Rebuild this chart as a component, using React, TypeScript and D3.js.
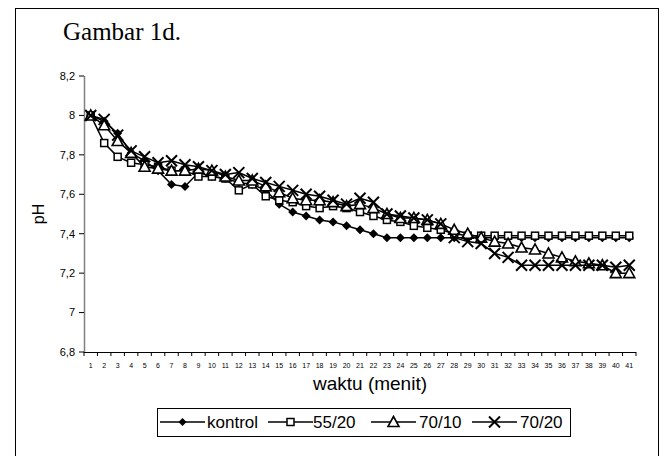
import React from 'react'
import * as d3 from 'd3'

// minutes 1..41
const minutes = d3.range(1, 42).map(String)

const kontrol = [8.0, 7.97, 7.91, 7.81, 7.77, 7.72, 7.65, 7.64, 7.71, 7.69, 7.68, 7.66, 7.65, 7.62, 7.55, 7.51, 7.49, 7.47, 7.46, 7.44, 7.42, 7.4, 7.38, 7.38, 7.38, 7.38, 7.38, 7.38, 7.38, 7.38, 7.38, 7.38, 7.38, 7.38, 7.38, 7.38, 7.38, 7.38, 7.38, 7.38, 7.38]
const s5520 = [8.0, 7.86, 7.79, 7.76, 7.75, 7.74, 7.72, 7.72, 7.69, 7.69, 7.68, 7.62, 7.65, 7.59, 7.57, 7.56, 7.54, 7.53, 7.54, 7.53, 7.51, 7.49, 7.47, 7.46, 7.44, 7.43, 7.42, 7.4, 7.39, 7.39, 7.39, 7.39, 7.39, 7.39, 7.39, 7.39, 7.39, 7.39, 7.39, 7.39, 7.39]
const s7010 = [8.0, 7.95, 7.87, 7.81, 7.74, 7.73, 7.72, 7.72, 7.73, 7.72, 7.69, 7.67, 7.67, 7.64, 7.61, 7.58, 7.57, 7.57, 7.56, 7.54, 7.55, 7.53, 7.5, 7.48, 7.48, 7.47, 7.45, 7.42, 7.4, 7.38, 7.36, 7.35, 7.33, 7.32, 7.3, 7.28, 7.26, 7.25, 7.24, 7.2, 7.2]
const s7020 = [8.0, 7.98, 7.9, 7.82, 7.79, 7.76, 7.77, 7.75, 7.74, 7.72, 7.7, 7.71, 7.68, 7.66, 7.64, 7.62, 7.6, 7.59, 7.57, 7.55, 7.58, 7.56, 7.5, 7.49, 7.48, 7.47, 7.45, 7.38, 7.36, 7.35, 7.3, 7.28, 7.24, 7.24, 7.24, 7.24, 7.24, 7.24, 7.24, 7.23, 7.24]

const yTicks = [6.8, 7, 7.2, 7.4, 7.6, 7.8, 8, 8.2]
const seriesNames = ['kontrol', '55/20', '70/10', '70/20']

const series = [
  { name: seriesNames[0], values: kontrol, marker: 'diamond' },
  { name: seriesNames[1], values: s5520, marker: 'square' },
  { name: seriesNames[2], values: s7010, marker: 'triangle' },
  { name: seriesNames[3], values: s7020, marker: 'cross' },
]

const fmt = (v: number) => {
  const s = d3.format('.1f')(v)
  return (s.endsWith('.0') ? s.slice(0, -2) : s).replace('.', ',')
}

const Marker = ({ type, x, y }: { type: string; x: number; y: number }) => {
  if (type === 'diamond') {
    return <path d={`M${x},${y - 4.5}L${x + 4.5},${y}L${x},${y + 4.5}L${x - 4.5},${y}Z`} fill="#000" />
  }
  if (type === 'square') {
    return <rect x={x - 3.5} y={y - 3.5} width={7} height={7} fill="#fff" stroke="#000" strokeWidth={1.5} />
  }
  if (type === 'triangle') {
    return <path d={`M${x},${y - 5.5}L${x + 5.5},${y + 4.5}L${x - 5.5},${y + 4.5}Z`} fill="#fff" stroke="#000" strokeWidth={1.6} />
  }
  return (
    <path d={`M${x - 5.5},${y - 5.5}L${x + 5.5},${y + 5.5}M${x + 5.5},${y - 5.5}L${x - 5.5},${y + 5.5}`} stroke="#000" strokeWidth={2} />
  )
}

const App = () => {
  const width = 664
  const height = 456
  const left = 84
  const right = 636
  const top = 76
  const bottom = 352

  const x = d3.scaleBand().domain(minutes).range([left, right])
  const y = d3.scaleLinear().domain([6.8, 8.2]).range([bottom, top])
  const cx = (i: number) => (x(minutes[i]) as number) + x.bandwidth() / 2

  const line = d3.line<number>()
    .x((d, i) => cx(i))
    .y(d => y(d))

  const legendItems = [
    { lx: 160, tx: 207 },
    { lx: 268, tx: 313 },
    { lx: 371, tx: 419 },
    { lx: 472, tx: 520 },
  ]

  return (
    <svg width={width} height={height} style={{ position: 'absolute', left: 0, top: 0 }} fontFamily="Arial, 'Liberation Sans', sans-serif">
      <rect x={0} y={0} width={width} height={height} fill="#fff" />
      <rect x={15.5} y={8.5} width={643} height={470} fill="none" stroke="#000" strokeWidth={1} />
      <text x={63} y={40} fontFamily="'Liberation Serif', 'Times New Roman', serif" fontSize={25}>Gambar 1d.</text>

      {/* y axis */}
      <line x1={left + 0.5} x2={left + 0.5} y1={top} y2={bottom} stroke="#808080" strokeWidth={1.5} />
      {yTicks.map(t => (
        <g key={t}>
          <line x1={left - 5} x2={left} y1={y(t)} y2={y(t)} stroke="#000" />
          <text x={left - 9} y={y(t)} dy="0.35em" textAnchor="end" fontSize={11}>{fmt(t)}</text>
        </g>
      ))}
      <text transform={`translate(44,${(top + bottom) / 2}) rotate(-90)`} textAnchor="middle" fontSize={16}>pH</text>

      {/* x axis */}
      <line x1={left} x2={right} y1={bottom + 0.5} y2={bottom + 0.5} stroke="#000" strokeWidth={1} />
      {minutes.map((m, i) => (
        <g key={m}>
          <line x1={x(m) as number} x2={x(m) as number} y1={bottom} y2={bottom + 4} stroke="#000" />
          <text x={cx(i)} y={bottom + 16} textAnchor="middle" fontSize={7}>{m}</text>
        </g>
      ))}
      <line x1={right} x2={right} y1={bottom} y2={bottom + 4} stroke="#000" />
      <text x={(left + right) / 2 + 10} y={390} textAnchor="middle" fontSize={19}>waktu (menit)</text>

      {/* series */}
      {series.map(s => (
        <g key={s.name}>
          <path d={line(s.values) as string} fill="none" stroke="#000" strokeWidth={1.5} />
          {s.values.map((v, i) => <Marker key={i} type={s.marker} x={cx(i)} y={y(v)} />)}
        </g>
      ))}

      {/* legend */}
      <rect x={157.5} y={408.5} width={413} height={28} fill="#fff" stroke="#000" strokeWidth={1} />
      {series.map((s, i) => (
        <g key={s.name}>
          <line x1={legendItems[i].lx} x2={legendItems[i].lx + 45} y1={422} y2={422} stroke="#000" strokeWidth={1.5} />
          {i === 0
            ? <path d={`M${legendItems[i].lx + 22.5},${418}L${legendItems[i].lx + 26.5},${422}L${legendItems[i].lx + 22.5},${426}L${legendItems[i].lx + 18.5},${422}Z`} fill="#000" />
            : i === 1
              ? <rect x={legendItems[i].lx + 19} y={418.5} width={7} height={7} fill="#fff" stroke="#000" strokeWidth={1.5} />
              : <Marker type={s.marker} x={legendItems[i].lx + 22.5} y={422} />}
          <text x={legendItems[i].tx} y={428} fontSize={17}>{s.name}</text>
        </g>
      ))}
    </svg>
  )
}

export default App
